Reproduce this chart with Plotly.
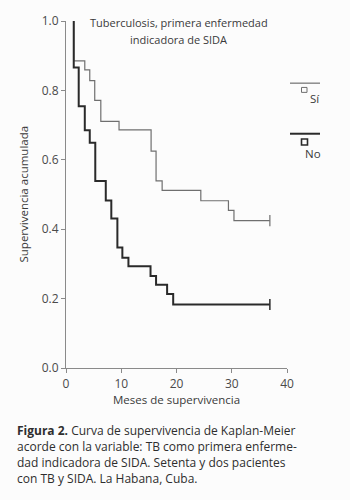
import plotly.graph_objects as go

# Kaplan-Meier step data (months, cumulative survival)
si_t = [1.4, 1.4, 3.4, 4.3, 5.2, 6.3, 9.6, 15.4, 16.3, 17.4, 24.4, 29.4, 30.4, 36.9]
si_s = [1.0, 0.885, 0.859, 0.828, 0.771, 0.711, 0.686, 0.625, 0.539, 0.512, 0.482, 0.454, 0.425, 0.425]

no_t = [1.4, 1.4, 2.3, 3.4, 4.3, 5.3, 7.2, 8.2, 9.3, 10.2, 11.3, 15.3, 16.3, 18.3, 19.4, 36.9]
no_s = [1.0, 0.866, 0.754, 0.685, 0.649, 0.539, 0.483, 0.431, 0.347, 0.318, 0.293, 0.265, 0.240, 0.213, 0.183, 0.183]

x_ticks = [0, 10, 20, 30, 40]
y_ticks = [0.0, 0.2, 0.4, 0.6, 0.8, 1.0]
y_labels = ["0.0", "0.2", "0.4", "0.6", "0.8", "1.0"]

FONT = "Open Sans"
SI_COLOR = "#6f6f6f"
NO_COLOR = "#2a2a2a"
TXT = "#3a3a3a"

fig = go.Figure()
fig.add_trace(go.Scatter(x=si_t, y=si_s, mode="lines", line=dict(shape="hv", color=SI_COLOR, width=1.2),
                         cliponaxis=False, showlegend=False, hoverinfo="skip"))
fig.add_trace(go.Scatter(x=no_t, y=no_s, mode="lines", line=dict(shape="hv", color=NO_COLOR, width=2),
                         cliponaxis=False, showlegend=False, hoverinfo="skip"))
# censor marks
fig.add_trace(go.Scatter(x=[si_t[-1]], y=[si_s[-1]], mode="markers",
                         marker=dict(symbol="line-ns-open", size=8, color=SI_COLOR,
                                     line=dict(color=SI_COLOR, width=1.2)),
                         cliponaxis=False, showlegend=False, hoverinfo="skip"))
fig.add_trace(go.Scatter(x=[no_t[-1]], y=[no_s[-1]], mode="markers",
                         marker=dict(symbol="line-ns-open", size=8, color=NO_COLOR,
                                     line=dict(color=NO_COLOR, width=1.5)),
                         cliponaxis=False, showlegend=False, hoverinfo="skip"))

W, H = 350, 500
L, R, T, B = 66, 63, 18, 132
pw, ph = W - L - R, H - T - B

def px(x):
    return (x - L) / pw

def py(y):
    return (H - B - y) / ph

shapes = []
# legend lines
shapes.append(dict(type="line", xref="paper", yref="paper", x0=px(290), x1=px(320), y0=py(80.7), y1=py(80.7),
                   line=dict(color=SI_COLOR, width=1.2)))
shapes.append(dict(type="line", xref="paper", yref="paper", x0=px(290), x1=px(320), y0=py(131.7), y1=py(131.7),
                   line=dict(color=NO_COLOR, width=2)))
# legend squares
shapes.append(dict(type="rect", xref="paper", yref="paper", x0=px(301.5), x1=px(307), y0=py(90), y1=py(85),
                   line=dict(color=SI_COLOR, width=1)))
shapes.append(dict(type="rect", xref="paper", yref="paper", x0=px(301.5), x1=px(307.5), y0=py(143), y1=py(137),
                   line=dict(color=NO_COLOR, width=1.6)))

annotations = []
def txt(x, y, s, size=12, xanchor="center", color=TXT, angle=0):
    annotations.append(dict(x=px(x), y=py(y), xref="paper", yref="paper", text=s, showarrow=False,
                            xanchor=xanchor, yanchor="middle", textangle=angle,
                            font=dict(family=FONT, size=size, color=color)))

txt(178.5, 19.5, "Tuberculosis, primera enfermedad", size=11)
txt(178.5, 37, "indicadora de SIDA", size=11)
txt(315, 96, "Sí", size=11.5)
txt(313, 152, "No", size=11.5)
txt(176.5, 400, "Meses de supervivencia", size=11.5)
txt(23, 193, "Supervivencia acumulada", size=11.5, angle=-90)

cap_lines = [
    "<b>Figura 2.</b> Curva de supervivencia de Kaplan-Meier",
    "acorde con la variable: TB como primera enferme-",
    "dad indicadora de SIDA. Setenta y dos pacientes",
    "con TB y SIDA. La Habana, Cuba.",
]
cap_y = [431.5, 447.5, 463.3, 479]
for s, y in zip(cap_lines, cap_y):
    txt(15, y, s, size=12, xanchor="left", color="#2e2e2e")

fig.update_layout(
    width=W, height=H,
    margin=dict(l=L, r=R, t=T, b=B, pad=0),
    paper_bgcolor="#fcfcfc", plot_bgcolor="#fcfcfc",
    shapes=shapes, annotations=annotations,
    xaxis=dict(range=[0, 40], tickvals=x_ticks, ticktext=[str(v) for v in x_ticks],
               showgrid=False, zeroline=False, showline=True, linecolor="#8a8a8a", linewidth=1.2,
               ticks="outside", ticklen=4, tickcolor="#8a8a8a",
               tickfont=dict(family=FONT, size=12, color="#4a4a4a")),
    yaxis=dict(range=[0, 1], tickvals=y_ticks, ticktext=y_labels,
               showgrid=False, zeroline=False, showline=True, linecolor="#8a8a8a", linewidth=1.2,
               ticks="outside", ticklen=4, tickcolor="#8a8a8a",
               tickfont=dict(family=FONT, size=12, color="#4a4a4a")),
    showlegend=False,
)

fig.write_html("out.html", config={"displayModeBar": False},
               post_script="document.body.style.margin='0';")
